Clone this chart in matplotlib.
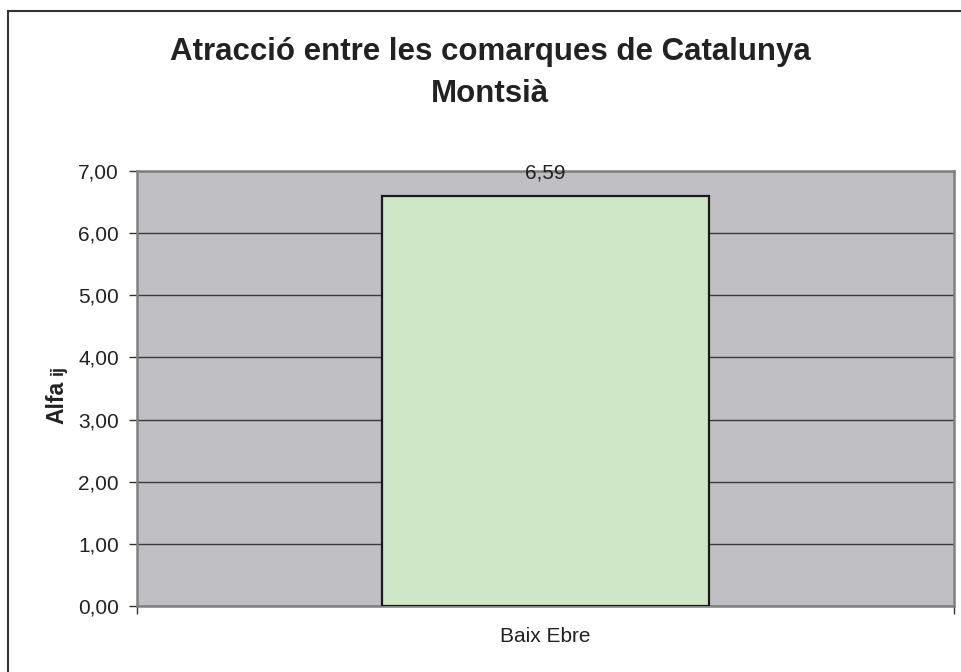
import matplotlib.pyplot as plt
from matplotlib.patches import Rectangle
from matplotlib.ticker import FuncFormatter

# data
categories = ['Baix Ebre']
values = [6.59]
yticks = [0, 1, 2, 3, 4, 5, 6, 7]

plt.rcParams['font.family'] = ['Liberation Sans', 'DejaVu Sans']
txt = '#222222'

fig = plt.figure(figsize=(9.62, 6.72), dpi=100)
ax = fig.add_axes([137/962, 1 - 606/672, 817/962, 435/672])
ax.set_facecolor('#c0c0c4')

x = list(range(len(categories)))
ax.bar(x, values, width=0.4, color='#cfe6c7', edgecolor='#1a1a1a', linewidth=1.6, zorder=3)
for xi, v in zip(x, values):
    ax.annotate(f'{v:.2f}'.replace('.', ','), (xi, v), xytext=(0, 17), textcoords='offset points',
                ha='center', va='center', fontsize=15, color=txt, zorder=4)

ax.set_ylim(0, 7)
ax.set_xlim(-0.5, len(categories) - 0.5)
ax.set_yticks(yticks)
ax.yaxis.set_major_formatter(FuncFormatter(lambda v, p: f'{v:.2f}'.replace('.', ',')))
ax.yaxis.grid(True, color='#3a3a3a', linewidth=1.0, zorder=1)
ax.set_axisbelow(True)

# category boundaries as major ticks, labels on minor ticks
ax.set_xticks([i - 0.5 for i in range(len(categories) + 1)])
ax.set_xticklabels([])
ax.set_xticks(x, minor=True)
ax.set_xticklabels(categories, minor=True)
ax.tick_params(axis='x', which='major', length=6, width=1, color='#333333', direction='out')
ax.tick_params(axis='x', which='minor', length=0, pad=15, labelsize=15, labelcolor=txt)
ax.tick_params(axis='y', length=6, width=1, color='#333333', pad=7, labelsize=15, labelcolor=txt)

for s in ax.spines.values():
    s.set_color('#808080')
    s.set_linewidth(1.8)

# y label: "Alfa" with smaller "ij"
fig.text(63/962, 1 - 424/672, 'Alfa', rotation=90, rotation_mode='anchor',
         ha='left', va='baseline', fontsize=16.5, fontweight='bold', color=txt)
fig.text(63/962, 1 - 375/672, 'ij', rotation=90, rotation_mode='anchor',
         ha='left', va='baseline', fontsize=13, fontweight='bold', color=txt)

fig.text(490/962, 1 - 52/672, 'Atracció entre les comarques de Catalunya', ha='center', va='center',
         fontsize=22.5, fontweight='bold', color=txt)
fig.text(490/962, 1 - 94/672, 'Montsià', ha='center', va='center',
         fontsize=22.5, fontweight='bold', color=txt)

# outer chart border
fig.patches.append(Rectangle((8/962, -0.05), 1.1, 1.05 - 11/672, transform=fig.transFigure,
                             fill=False, edgecolor='#333333', linewidth=1.5))

fig.savefig('out.png', dpi=100, facecolor='white')
